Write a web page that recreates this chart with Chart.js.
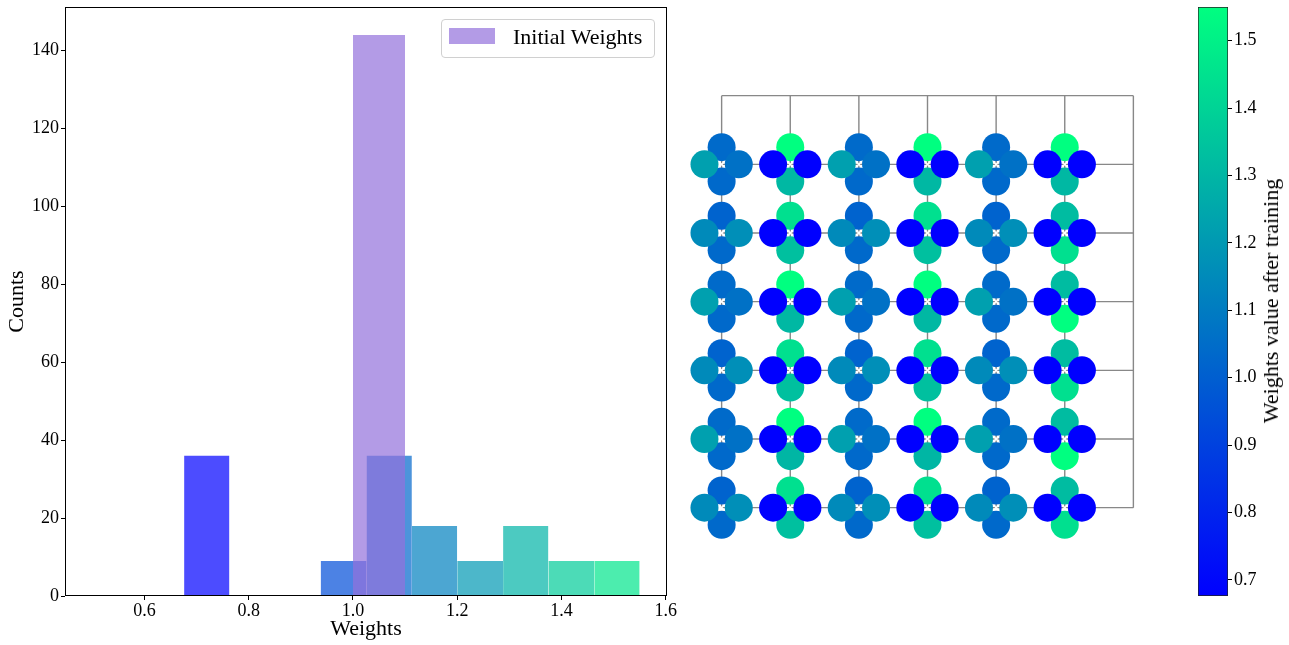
<!DOCTYPE html>
<html>
<head>
<meta charset="utf-8">
<script src="https://cdn.jsdelivr.net/npm/chart.js@4.4.0/dist/chart.umd.min.js"></script>
<style>
  html, body { margin: 0; padding: 0; background: #fff; }
  #stage { position: relative; width: 1289px; height: 645px; overflow: hidden;
           font-family: 'Liberation Serif', 'Times New Roman', serif; color: #000; }
  canvas { position: absolute; }
  #hist { left: 0; top: 0; }
  #net  { left: 653px; top: 27px; }
  #cbar { left: 1150px; top: 0; }
  .legend { position: absolute; left: 441px; top: 19px; width: 214px; height: 39px;
            box-sizing: border-box; border: 1px solid #d0d0d0; border-radius: 4px;
            background: rgba(255,255,255,0.8); }
  .legend .swatch { position: absolute; left: 7px; top: 8px; width: 46px; height: 16px; }
  .legend .label { position: absolute; left: 71px; top: 6px; font-size: 22px; line-height: 22px; white-space: nowrap; }
  .cbar-title { position: absolute; left: 1271px; top: 301px; transform: translate(-50%, -50%) rotate(-90deg);
                font-size: 22px; line-height: 22px; white-space: nowrap; }
</style>
</head>
<body>
<div id="stage">
  <canvas id="hist" width="680" height="645"></canvas>
  <canvas id="net" width="549" height="618"></canvas>
  <canvas id="cbar" width="139" height="645"></canvas>
  <div class="legend"><span class="swatch" id="swatch"></span><span class="label">Initial Weights</span></div>
  <div class="cbar-title">Weights value after training</div>
</div>
<script>
// Range of the trained weights, shared by the colour map, colour bar and histogram.
const weightMin = 0.676;
const weightMax = 1.550;

// Histogram of the initial weights (every bond starts at 1.0).
const initialBinEdges = [0.5, 0.6, 0.7, 0.8, 0.9, 1.0, 1.1, 1.2, 1.3, 1.4, 1.5];
const initialCounts   = [0, 0, 0, 0, 0, 144, 0, 0, 0, 0];

// Histogram of the weights after training.
const trainedBinEdges = [0.676, 0.763, 0.851, 0.938, 1.026, 1.113, 1.200, 1.288, 1.375, 1.463, 1.550];
const trainedCounts   = [36, 0, 0, 9, 36, 18, 9, 18, 9, 9];

const histXTicks    = [0.6, 0.8, 1.0, 1.2, 1.4, 1.6];
const histYTicks    = [0, 20, 40, 60, 80, 100, 120, 140];
const colorbarTicks = [0.7, 0.8, 0.9, 1.0, 1.1, 1.2, 1.3, 1.4, 1.5];

// Trained weight of each bond leaving a lattice node (rows top to bottom, columns left to right).
const weightsUp = [
  [1.040, 1.550, 1.040, 1.550, 1.040, 1.550],
  [1.015, 1.445, 1.015, 1.445, 1.015, 1.320],
  [1.040, 1.550, 1.040, 1.550, 1.040, 1.320],
  [1.015, 1.445, 1.015, 1.445, 1.015, 1.320],
  [1.040, 1.550, 1.040, 1.550, 1.040, 1.320],
  [1.015, 1.445, 1.015, 1.445, 1.015, 1.320]
];
const weightsDown = [
  [1.035, 1.305, 1.035, 1.305, 1.035, 1.305],
  [1.035, 1.335, 1.035, 1.335, 1.035, 1.445],
  [1.035, 1.305, 1.035, 1.305, 1.035, 1.550],
  [1.035, 1.335, 1.035, 1.335, 1.035, 1.445],
  [1.035, 1.300, 1.035, 1.300, 1.035, 1.550],
  [1.035, 1.335, 1.035, 1.335, 1.035, 1.445]
];
const weightsLeft = [
  [1.225, 0.676, 1.225, 0.676, 1.225, 0.676],
  [1.150, 0.676, 1.150, 0.676, 1.150, 0.676],
  [1.225, 0.676, 1.225, 0.676, 1.225, 0.676],
  [1.150, 0.676, 1.150, 0.676, 1.150, 0.676],
  [1.225, 0.676, 1.225, 0.676, 1.225, 0.676],
  [1.150, 0.676, 1.150, 0.676, 1.150, 0.676]
];
const weightsRight = [
  [1.065, 0.676, 1.065, 0.676, 1.065, 0.676],
  [1.165, 0.676, 1.165, 0.676, 1.165, 0.676],
  [1.065, 0.676, 1.065, 0.676, 1.065, 0.676],
  [1.165, 0.676, 1.165, 0.676, 1.165, 0.676],
  [1.065, 0.676, 1.065, 0.676, 1.065, 0.676],
  [1.165, 0.676, 1.165, 0.676, 1.165, 0.676]
];

Chart.defaults.font.family = "'Liberation Serif', 'Times New Roman', serif";
Chart.defaults.color = '#000';

// "winter" colour map: blue -> spring green.
function winter(t, alpha = 1) {
  t = Math.min(1, Math.max(0, t));
  return `rgba(0,${Math.round(255 * t)},${Math.round(255 * (1 - 0.5 * t))},${alpha})`;
}
function weightColor(v) { return winter((v - weightMin) / (weightMax - weightMin)); }

const initialColor = 'rgba(147,112,219,0.7)';
document.getElementById('swatch').style.background = initialColor;

// ---------- Histogram ----------
function binOutline(lo, hi, h) {
  return [{ x: lo, y: 0 }, { x: lo, y: h }, { x: hi, y: h }, { x: hi, y: 0 }];
}
const histDatasets = [];
initialCounts.forEach((count, i) => {
  histDatasets.push({
    label: 'Initial Weights',
    data: binOutline(initialBinEdges[i], initialBinEdges[i + 1], count),
    backgroundColor: initialColor, borderColor: 'rgba(0,0,0,0)', borderWidth: 0,
    fill: 'origin', pointRadius: 0, order: 0
  });
});
trainedCounts.forEach((count, i) => {
  histDatasets.push({
    label: 'Trained Weights',
    data: binOutline(trainedBinEdges[i], trainedBinEdges[i + 1], count),
    backgroundColor: winter(i / trainedCounts.length, 0.7), borderColor: 'rgba(0,0,0,0)', borderWidth: 0,
    fill: 'origin', pointRadius: 0, order: 1
  });
});

const axesFrame = {
  id: 'axesFrame',
  afterDatasetsDraw(chart) {
    const { ctx, chartArea: a } = chart;
    ctx.save();
    ctx.strokeStyle = '#000';
    ctx.lineWidth = 1;
    ctx.strokeRect(Math.round(a.left) + 0.5, Math.round(a.top) + 0.5,
                   Math.round(a.right - a.left) - 1, Math.round(a.bottom - a.top) - 1);
    ctx.restore();
  }
};

new Chart(document.getElementById('hist'), {
  type: 'line',
  data: { datasets: histDatasets },
  options: {
    responsive: false, animation: false, events: [],
    layout: { autoPadding: false, padding: { left: 0, top: 7, right: 13, bottom: 0 } },
    plugins: { legend: { display: false }, tooltip: { enabled: false } },
    scales: {
      x: {
        type: 'linear', min: 0.4475, max: 1.6025,
        afterBuildTicks: s => { s.ticks = histXTicks.map(v => ({ value: v })); },
        afterFit: s => { s.height = 49; s.paddingLeft = 0; s.paddingRight = 0; },
        grid: { drawOnChartArea: false, drawTicks: true, tickLength: 4, color: '#000', tickColor: '#000' },
        border: { display: false },
        ticks: { padding: 0, font: { size: 18 }, maxRotation: 0, autoSkip: false, callback: v => v.toFixed(1) },
        title: { display: true, text: 'Weights', font: { size: 22 }, padding: { top: 0, bottom: 3 } }
      },
      y: {
        type: 'linear', min: 0, max: 151.2,
        afterBuildTicks: s => { s.ticks = histYTicks.map(v => ({ value: v })); },
        afterFit: s => { s.width = 65; s.paddingTop = 0; s.paddingBottom = 0; },
        grid: { drawOnChartArea: false, drawTicks: true, tickLength: 4, color: '#000', tickColor: '#000' },
        border: { display: false },
        ticks: { padding: 2, font: { size: 18 }, autoSkip: false, callback: v => String(v) },
        title: { display: true, text: 'Counts', font: { size: 22 }, padding: { top: 4, bottom: 0 } }
      }
    }
  },
  plugins: [axesFrame]
});

// ---------- Lattice of bond weights ----------
const rows = weightsUp.length, cols = weightsUp[0].length;
const bondOffset = 0.25;
const netDatasets = [];

// Lattice edges, including the wrap-around edges along the top and right.
const edgeStyle = { type: 'line', borderColor: '#888', borderWidth: 1.4, pointRadius: 0, fill: false, order: 4 };
for (let c = 0; c < cols; c++) {
  netDatasets.push({ ...edgeStyle, data: [{ x: c, y: -1 }, { x: c, y: rows - 1 }] });
}
for (let r = 0; r < rows; r++) {
  netDatasets.push({ ...edgeStyle, data: [{ x: 0, y: r }, { x: cols, y: r }] });
}
netDatasets.push({ ...edgeStyle, data: [{ x: 0, y: -1 }, { x: cols, y: -1 }] });
netDatasets.push({ ...edgeStyle, data: [{ x: cols, y: -1 }, { x: cols, y: rows - 1 }] });

function bondDataset(grid, dx, dy, order) {
  const data = [], colors = [];
  for (let r = 0; r < rows; r++) {
    for (let c = 0; c < cols; c++) {
      data.push({ x: c + dx, y: r + dy, w: grid[r][c] });
      colors.push(weightColor(grid[r][c]));
    }
  }
  return { type: 'scatter', data, backgroundColor: colors, borderWidth: 0,
           pointRadius: 14, pointHoverRadius: 14, pointStyle: 'circle', order };
}
netDatasets.push(bondDataset(weightsUp, 0, -bondOffset, 3));
netDatasets.push(bondDataset(weightsDown, 0, bondOffset, 3));
netDatasets.push(bondDataset(weightsLeft, -bondOffset, 0, 2));
netDatasets.push(bondDataset(weightsRight, bondOffset, 0, 2));

// Node markers.
const nodes = [];
for (let r = 0; r < rows; r++) for (let c = 0; c < cols; c++) nodes.push({ x: c, y: r });
netDatasets.push({ type: 'scatter', data: nodes, pointStyle: 'crossRot', pointRadius: 3,
                   borderColor: '#fff', borderWidth: 1.5, backgroundColor: '#fff', order: 1 });

new Chart(document.getElementById('net'), {
  type: 'scatter',
  data: { datasets: netDatasets },
  options: {
    responsive: false, animation: false, events: [],
    layout: { autoPadding: false, padding: 0 },
    plugins: { legend: { display: false }, tooltip: { enabled: false } },
    scales: {
      x: { type: 'linear', min: -1, max: 7, display: false },
      y: { type: 'linear', min: -2, max: 7, reverse: true, display: false }
    }
  }
});

// ---------- Colour bar ----------
new Chart(document.getElementById('cbar'), {
  type: 'bar',
  data: {
    labels: [''],
    datasets: [{
      data: [[weightMin, weightMax]],
      backgroundColor: ctx => {
        const chart = ctx.chart, y = chart.scales.y;
        if (!chart.chartArea || !y) return winter(0);
        const g = chart.ctx.createLinearGradient(0, y.getPixelForValue(weightMin), 0, y.getPixelForValue(weightMax));
        g.addColorStop(0, winter(0));
        g.addColorStop(1, winter(1));
        return g;
      },
      borderColor: '#222', borderWidth: 1, borderSkipped: false,
      categoryPercentage: 1, barPercentage: 1
    }]
  },
  options: {
    responsive: false, animation: false, events: [],
    layout: { autoPadding: false, padding: { left: 48, top: 7, right: 0, bottom: 49 } },
    plugins: { legend: { display: false }, tooltip: { enabled: false } },
    scales: {
      x: { display: false },
      y: {
        position: 'right', min: weightMin, max: weightMax,
        afterBuildTicks: s => { s.ticks = colorbarTicks.map(v => ({ value: v })); },
        afterFit: s => { s.width = 61; s.paddingTop = 0; s.paddingBottom = 0; },
        grid: { drawOnChartArea: false, drawTicks: true, tickLength: 4, color: '#000', tickColor: '#000' },
        border: { display: false },
        ticks: { padding: 2, font: { size: 18 }, autoSkip: false, callback: v => v.toFixed(1) }
      }
    }
  }
});
</script>
</body>
</html>
